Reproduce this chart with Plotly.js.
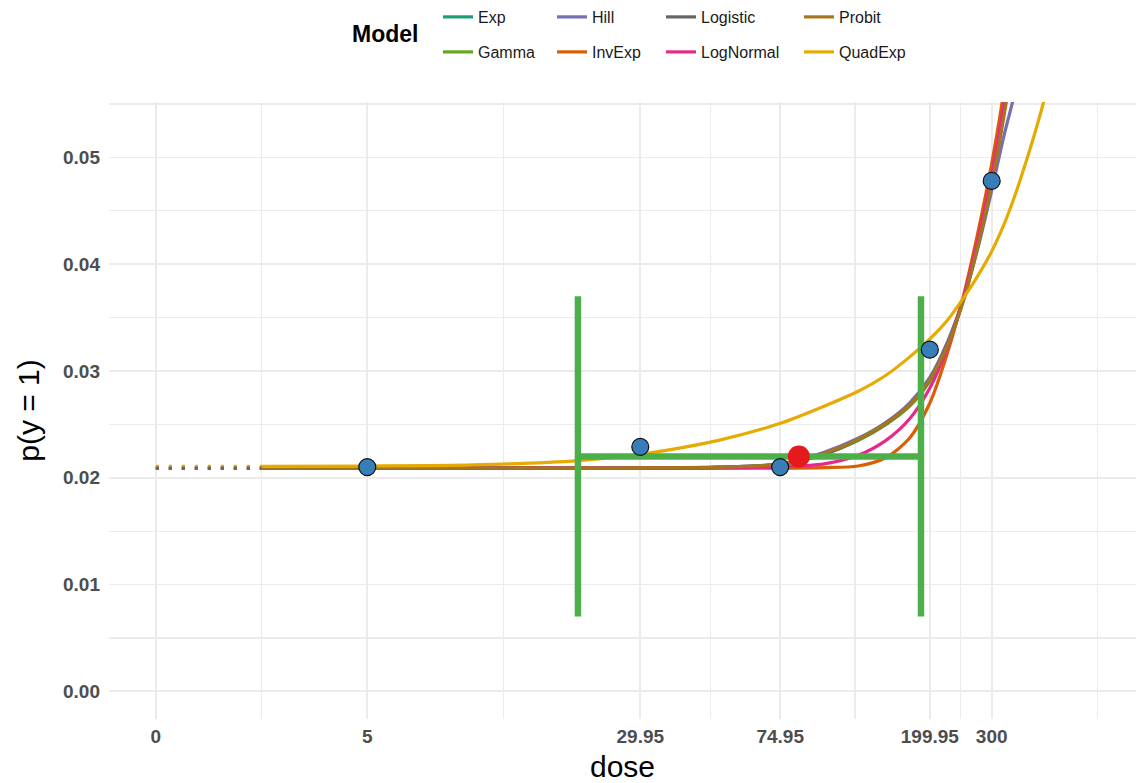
<!DOCTYPE html>
<html>
<head>
<meta charset="utf-8">
<script src="https://cdn.plot.ly/plotly-3.0.1.min.js"></script>
<style>
  html, body { margin: 0; padding: 0; background: #ffffff; }
  #chart { width: 1136px; height: 783px; }
</style>
</head>
<body>
<div id="chart"></div>
<script>
// ---- fitted dose-response curves on a shared dose grid ----
const doseGrid = [2.5, 5, 10, 20, 30, 50, 75, 100, 125, 150, 175, 200, 225, 250, 275, 300, 325, 350, 375, 400, 425, 450];

const models = ['Exp', 'Gamma', 'Hill', 'InvExp', 'Logistic', 'LogNormal', 'Probit', 'QuadExp'];
const modelColors = ['#1B9E77', '#66A61E', '#7570B3', '#D95F02', '#666666', '#E7298A', '#A6761D', '#E6AB02'];

const expFit       = [0.0209, 0.0209, 0.0209, 0.0209, 0.02092, 0.02098, 0.02125, 0.0222, 0.0235, 0.0250, 0.0267, 0.0291, 0.0326, 0.0369, 0.0421, 0.0478, 0.0543, 0.0612, null, null, null, null];
const gammaFit     = [0.0209, 0.0209, 0.0209, 0.0209, 0.02091, 0.02097, 0.0212, 0.0222, 0.0235, 0.0250, 0.0267, 0.0291, 0.0326, 0.0369, 0.0421, 0.0478, 0.0544, 0.0614, null, null, null, null];
const hillFit      = [0.02088, 0.02089, 0.0209, 0.02092, 0.02095, 0.0210, 0.0213, 0.0224, 0.0237, 0.0252, 0.0270, 0.0294, 0.0328, 0.0369, 0.0417, 0.0469, 0.0520, 0.0562, 0.0610, null, null, null];
const invExpFit    = [0.0209, 0.0209, 0.0209, 0.0209, 0.0209, 0.0209, 0.0209, 0.02095, 0.0211, 0.0219, 0.0237, 0.0270, 0.0318, 0.0372, 0.0432, 0.0494, 0.0562, 0.0635, null, null, null, null];
const logisticFit  = [0.0209, 0.0209, 0.0209, 0.0209, 0.02092, 0.02098, 0.02125, 0.0222, 0.0236, 0.0251, 0.0268, 0.0292, 0.0326, 0.0368, 0.0420, 0.0477, 0.0542, 0.0612, null, null, null, null];
const logNormalFit = [0.0209, 0.0209, 0.0209, 0.0209, 0.0209, 0.02092, 0.0210, 0.0213, 0.0221, 0.0235, 0.0255, 0.0284, 0.0323, 0.0370, 0.0425, 0.0484, 0.0550, 0.0622, null, null, null, null];
const probitFit    = [0.0209, 0.0209, 0.0209, 0.0209, 0.02093, 0.0210, 0.0213, 0.0223, 0.0236, 0.0251, 0.0268, 0.0292, 0.0325, 0.0367, 0.0419, 0.0475, 0.0538, 0.0606, null, null, null, null];
const quadExpFit   = [0.02106, 0.0211, 0.0212, 0.0216, 0.0222, 0.0235, 0.0251, 0.0267, 0.0281, 0.0296, 0.0313, 0.0330, 0.0348, 0.0369, 0.0390, 0.0412, 0.0437, 0.0465, 0.0495, 0.0525, 0.0556, 0.0590];

const fits = [expFit, gammaFit, hillFit, invExpFit, logisticFit, logNormalFit, probitFit, quadExpFit];

// ---- observed dose groups ----
const obsDose = [5, 29.95, 74.95, 199.95, 300];
const obsResp = [0.0210, 0.0229, 0.0210, 0.0320, 0.0478];

// ---- benchmark dose summary ----
const bmdEstimate = 84.7;
const bmdLower = 19.9;
const bmdUpper = 188.7;
const bmrLevel = 0.0220;
const barLow = 0.0070;
const barHigh = 0.0370;

// ---- x axis ticks (dose 0 is drawn at a stand-in spot on the log axis) ----
const zeroDoseAt = 1.25;
const tickDoses = [0, 5, 29.95, 74.95, 199.95, 300];
const tickLabels = ['0', '5', '29.95', '74.95', '199.95', '300'];
const minorGridDoses = [2.5, 12.24, 47.38, 122.4, 244.9, 600];

const FONT = 'Liberation Sans, Arial, Helvetica, sans-serif';
const W = 1136, H = 783;
const M = { l: 109, r: 0, t: 101, b: 64 };
const plotW = W - M.l - M.r, plotH = H - M.t - M.b;

// pixel -> paper coordinates for items placed in the margins
function paperX(px) { return (px - M.l) / plotW; }
function paperY(py) { return (H - M.b - py) / plotH; }

const legendIds = ['legend', 'legend', 'legend2', 'legend2', 'legend3', 'legend3', 'legend4', 'legend4'];
// drawing order of the dotted zero-dose connectors (grey one on top)
const dashOrder = [0, 1, 2, 3, 5, 6, 7, 4];

const traces = [];

// dotted connectors from dose 0 up to the first grid dose
dashOrder.forEach(function (i) {
  traces.push({
    type: 'scatter', mode: 'lines',
    x: [zeroDoseAt, doseGrid[0]],
    y: [fits[i][0], fits[i][0]],
    line: { color: modelColors[i], width: 3.2, dash: '3px,10px' },
    showlegend: false, hoverinfo: 'skip'
  });
});

// fitted curves
models.forEach(function (name, i) {
  traces.push({
    type: 'scatter', mode: 'lines',
    name: name,
    x: doseGrid, y: fits[i],
    line: { color: modelColors[i], width: 3.2, shape: 'spline', smoothing: 0.8 },
    legend: legendIds[i], legendgroup: name,
    hoverinfo: 'skip'
  });
});

// benchmark dose interval and response level
traces.push({
  type: 'scatter', mode: 'lines',
  x: [bmdLower, bmdLower, null, bmdUpper, bmdUpper, null, bmdLower, bmdUpper],
  y: [barLow, barHigh, null, barLow, barHigh, null, bmrLevel, bmrLevel],
  line: { color: '#4DAF4A', width: 6.5 },
  connectgaps: false, showlegend: false, hoverinfo: 'skip'
});

// observed data
traces.push({
  type: 'scatter', mode: 'markers',
  x: obsDose, y: obsResp,
  marker: { size: 17, color: '#377EB8', line: { color: '#111111', width: 1.2 } },
  showlegend: false, hoverinfo: 'skip'
});

// benchmark dose estimate
traces.push({
  type: 'scatter', mode: 'markers',
  x: [bmdEstimate], y: [bmrLevel],
  marker: { size: 22, color: '#E41A1C' },
  showlegend: false, hoverinfo: 'skip'
});

const tickVals = tickDoses.map(function (d) { return d === 0 ? zeroDoseAt : d; });

const legendBase = {
  orientation: 'v',
  xanchor: 'left', yanchor: 'top', y: paperY(-1.2),
  font: { family: FONT, size: 16, color: '#1A1A1A' },
  tracegroupgap: 11.2, itemwidth: 30, bgcolor: 'rgba(0,0,0,0)', borderwidth: 0
};
const legendTextX = [478, 592, 701, 839];
function legendAt(px) { return Object.assign({}, legendBase, { x: paperX(px - 40) }); }

const gridColor = '#EBEBEB';

const layout = {
  width: W, height: H,
  margin: M,
  paper_bgcolor: '#ffffff', plot_bgcolor: '#ffffff',
  font: { family: FONT },
  showlegend: true,
  legend: legendAt(legendTextX[0]),
  legend2: legendAt(legendTextX[1]),
  legend3: legendAt(legendTextX[2]),
  legend4: legendAt(legendTextX[3]),
  xaxis: {
    type: 'log',
    range: [-0.03664, 2.88813],
    tickmode: 'array', tickvals: tickVals, ticktext: tickLabels,
    tickfont: { family: FONT, size: 19, color: '#4D4D4D', weight: 'bold' },
    tickangle: 0, ticklabelstandoff: 4,
    ticks: '', showline: false, zeroline: false,
    showgrid: true, gridcolor: gridColor, gridwidth: 1.7,
    minor: { tickmode: 'array', tickvals: minorGridDoses, showgrid: true, gridcolor: gridColor, gridwidth: 1.2, ticks: '' },
    title: { text: 'dose', font: { family: FONT, size: 30, color: '#000000' }, standoff: 14 },
    automargin: false
  },
  yaxis: {
    range: [-0.00259, 0.05519],
    tickmode: 'linear', tick0: 0, dtick: 0.01, tickformat: '.2f',
    tickfont: { family: FONT, size: 19, color: '#4D4D4D', weight: 'bold' },
    ticks: '', showline: false, zeroline: false,
    showgrid: true, gridcolor: gridColor, gridwidth: 1.7,
    minor: { tick0: 0, dtick: 0.005, showgrid: true, gridcolor: gridColor, gridwidth: 1.2, ticks: '' },
    ticklabelstandoff: 8,
    title: { text: 'p(y = 1)', font: { family: FONT, size: 30, color: '#000000' }, standoff: 14 },
    automargin: false
  },
  annotations: [{
    xref: 'paper', yref: 'paper',
    x: paperX(350), y: paperY(33.3),
    xanchor: 'left', yanchor: 'middle',
    text: 'Model', showarrow: false,
    font: { family: FONT, size: 23, color: '#000000', weight: 'bold' }
  }]
};

Plotly.newPlot('chart', traces, layout, { staticPlot: true, displayModeBar: false });
</script>
</body>
</html>
